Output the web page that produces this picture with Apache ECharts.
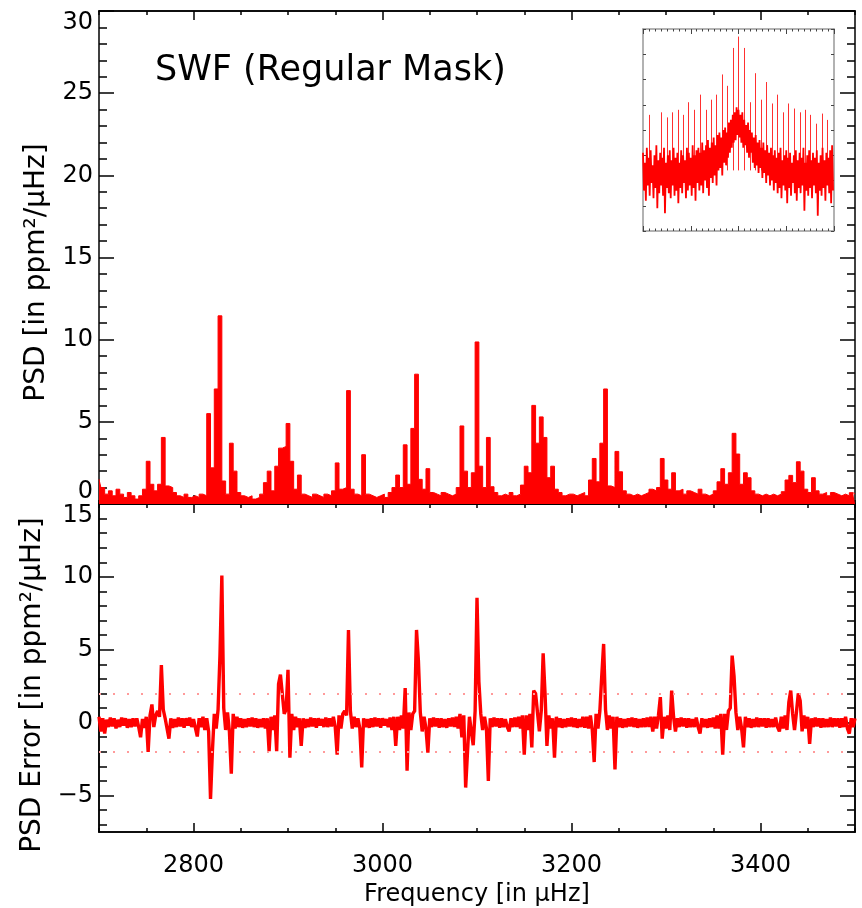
<!DOCTYPE html>
<html>
<head>
<meta charset="utf-8">
<script src="https://cdn.jsdelivr.net/npm/echarts@6/dist/echarts.min.js"></script>
<style>
  html, body { margin: 0; padding: 0; background: #fff; }
  #chart { width: 862px; height: 908px; }
</style>
</head>
<body>
<div id="chart"></div>
<script>
// Spectrum sampling: first bin frequency (µHz) and bin widths of the two panels
const freqStart = 2700;
const psdBinWidth = 4;
const errBinWidth = 2;

// Power spectral density, ppm^2/µHz, one value per 4 µHz bin
const psd = [
  1.5, 1.0, 0.6, 0.8, 0.5, 0.9, 0.6, 0.4, 0.7, 0.5,
  0.3, 0.5, 0.9, 2.6, 1.2, 0.8, 1.2, 4.05, 1.1, 1.0,
  0.7, 0.5, 0.4, 0.6, 0.4, 0.5, 0.4, 0.6, 0.5, 5.5,
  2.2, 7.0, 11.45, 1.4, 0.6, 3.7, 2.0, 0.7, 0.5, 0.4,
  0.5, 0.3, 0.4, 0.6, 1.3, 2.0, 0.8, 2.3, 3.4, 3.5,
  4.9, 2.6, 0.9, 1.76, 0.6, 0.5, 0.4, 0.6, 0.5, 0.4,
  0.6, 0.5, 0.8, 2.5, 0.9, 1.0, 6.9, 0.9, 0.6, 0.5,
  3.0, 0.6, 0.5, 0.4, 0.5, 0.6, 0.4, 0.7, 1.0, 1.76,
  1.0, 3.6, 1.2, 4.6, 7.9, 1.5, 0.9, 2.15, 0.7, 0.6,
  0.5, 0.7, 0.6, 0.5, 0.6, 1.0, 4.75, 2.0, 1.0, 1.9,
  9.86, 2.3, 1.0, 4.05, 1.05, 0.7, 0.5, 0.6, 0.5, 0.7,
  0.5, 0.6, 1.15, 2.3, 1.9, 6.0, 3.7, 5.3, 4.05, 1.6,
  2.3, 0.9, 0.7, 0.5, 0.6, 0.6, 0.5, 0.6, 0.7, 0.5,
  1.46, 2.77, 1.35, 3.7, 7.0, 1.1, 1.0, 3.2, 1.96, 0.8,
  0.6, 0.5, 0.6, 0.5, 0.6, 0.7, 0.9, 0.8, 1.0, 2.77,
  1.46, 0.9, 1.9, 0.8, 0.9, 0.6, 0.8, 0.7, 0.6, 0.9,
  0.6, 0.5, 0.6, 0.8, 1.35, 2.15, 1.2, 1.9, 4.3, 3.04,
  1.2, 1.9, 1.6, 0.8, 0.6, 0.5, 0.6, 0.5, 0.6, 0.5,
  0.6, 0.75, 1.46, 1.74, 1.3, 2.57, 2.0, 0.9, 0.7, 1.6,
  0.8, 0.6, 0.7, 0.5, 0.7, 0.6, 0.5, 0.6, 0.5, 0.69,
  0.6
];

// PSD error, ppm^2/µHz, one value per 2 µHz bin (20 bins = 40 µHz per row)
const psdError = [
  0.4, -0.6, 0.3, -0.75, 0.2, -0.3, 0.35, -0.25, 0.3, -0.4, 0.2, -0.3, 0.35, -0.2, 0.3, -0.35, 0.25, -0.3, 0.3, -0.25,
  0.3, -0.3, -1.0, 0.25, -0.35, 0.4, -2.0, 0.5, 1.25, -0.3, 0.5, 0.8, 0.4, 3.95, 0.9, 0.3, -0.4, -1.1, 0.3, -0.35,
  0.25, -0.3, 0.35, -0.25, 0.3, -0.35, 0.3, -0.2, 0.35, -0.3, 0.25, -0.35, -0.95, 0.3, -0.3, 0.4, -0.5, 0.3, -0.6, -5.23,
  -1.95, 0.6, -0.4, 0.9, 4.6, 10.1, 1.0, -0.5, 0.7, -0.6, -3.5, 0.6, -0.4, 0.4, -0.3, 0.3, -0.35, 0.25, -0.3, 0.3,
  -0.25, 0.35, -0.3, 0.3, -0.35, 0.25, -0.3, 0.3, -0.4, 0.3, -1.95, 0.4, -0.5, 0.5, -1.95, 2.66, 3.3, 3.3, 0.6, 0.9,
  3.63, -2.4, 0.6, -0.5, 0.4, -0.3, 0.3, -1.6, 0.3, -0.35, 0.25, -0.3, 0.35, -0.25, 0.3, -0.35, 0.3, -0.2, 0.25, -0.3,
  0.35, -0.3, 0.3, -0.25, 0.4, -0.3, -2.2, 0.5, -0.4, 0.6, 0.8, 0.5, 6.36, 0.8, -0.4, 0.4, -0.3, 0.3, -0.4, -3.07,
  0.3, -0.3, 0.25, -0.35, 0.3, -0.3, 0.35, -0.25, 0.3, -0.35, 0.3, -0.2, 0.25, -0.3, 0.35, -0.5, 0.4, -1.6, 0.4, -0.5,
  0.5, -0.4, 2.37, -3.3, 0.7, -0.5, 0.6, 0.8, 6.36, 4.25, 0.7, -0.6, 0.4, -0.4, -2.05, 0.3, -0.3, 0.35, -0.25, 0.3,
  -0.35, 0.3, -0.3, 0.25, -0.35, 0.3, -0.25, 0.35, -0.3, 0.4, -0.4, 0.6, -1.0, 0.5, -4.45, -1.95, 0.4, -0.6, -1.55, 0.8,
  8.57, 2.8, 0.6, -0.5, 0.4, -0.4, -4.0, 0.3, -0.3, 0.35, -0.25, 0.3, -0.35, 0.3, -0.3, 0.25, -0.3, -0.6, 0.3, -0.3,
  0.35, -0.3, 0.4, -0.4, 0.5, -2.2, 0.5, -0.5, 0.6, -1.7, 2.2, 2.0, 0.7, -0.6, 0.8, 4.75, 2.0, -1.6, 0.5, -0.4,
  0.3, -2.4, 0.4, -0.3, 0.3, -0.35, 0.25, -0.3, 0.3, -0.25, 0.35, -0.3, 0.3, -0.35, 0.25, -0.3, 0.4, -0.35, 0.4, -0.4,
  0.5, -0.5, -2.7, 0.6, -0.4, 0.8, 3.2, 5.4, 0.9, -0.5, 0.5, -0.4, 0.4, -3.2, 0.4, -0.3, 0.3, -0.35, 0.25, -0.3,
  0.3, -0.25, 0.35, -0.3, 0.3, -0.35, 0.25, -0.3, 0.3, -0.3, 0.35, -0.3, 0.4, -0.6, 0.4, -0.4, 0.5, 1.75, -1.1, 0.4,
  -0.4, 0.5, -0.5, 2.2, 0.4, -0.6, 0.3, -0.3, 0.35, -0.25, 0.3, -0.35, 0.3, -0.3, 0.25, -0.3, 0.35, -0.3, -0.75, 0.3,
  -0.3, 0.25, -0.35, 0.3, -0.3, 0.35, -0.4, 0.5, -0.4, 0.6, -2.2, 0.6, -0.5, 0.8, 1.0, 4.6, 3.2, 0.7, -0.5, 0.4,
  -0.4, -1.7, 0.4, -0.3, 0.3, -0.35, 0.25, -0.3, 0.35, -0.3, 0.3, -0.25, 0.3, -0.35, 0.3, -0.3, 0.25, -0.3, 0.35, -0.3,
  -0.6, 0.4, -0.4, 0.5, -0.5, 1.4, 2.2, 0.6, -0.5, 0.7, 2.0, 1.5, -0.6, 0.5, -0.4, 0.4, -1.45, 0.3, -0.3, 0.35,
  -0.25, 0.3, -0.35, 0.3, -0.3, 0.25, -0.3, 0.35, -0.3, 0.3, -0.25, 0.3, -0.35, 0.3, -0.3, 0.4, -0.4, -0.75, 0.3, -0.3,
  0.3
];

// Reference level drawn as dotted lines on the error panel
const errLevels = [2, -2];

// Axis tick values
const freqMajorTicks = [2800, 3000, 3200, 3400];
const errMajorTicks = [-5, 0, 5, 10, 15];
const errMinorTicks = [-7, -6, -4, -3, -2, -1, 1, 2, 3, 4, 6, 7, 8, 9, 11, 12, 13, 14];

// Inset: full spectrum envelope (upper / lower values per sample)
const insetHi = [
  3.1, 2.7, 3.3, 2.9, 3.2, 2.6, 3.0, 3.4, 2.8, 3.1,
  2.9, 3.3, 2.7, 3.0, 3.2, 2.8, 3.3, 2.9, 3.1, 2.7,
  3.2, 3.0, 2.8, 3.3, 3.1, 2.9, 3.4, 3.0, 3.2, 3.3,
  3.1, 3.5, 3.2, 3.4, 3.6, 3.3, 3.5, 3.7, 3.4, 3.8,
  3.9, 3.7, 4.0, 4.1, 3.9, 4.3, 4.4, 4.6, 4.7, 4.9,
  4.8, 4.6, 4.7, 4.4, 4.2, 4.3, 4.0, 3.9, 3.7, 3.8,
  3.5, 3.6, 3.3, 3.5, 3.2, 3.4, 3.1, 3.3, 3.0, 3.2,
  2.9, 3.1, 3.3, 2.8, 3.0, 3.2, 2.9, 3.1, 2.7, 3.0,
  3.2, 2.8, 3.1, 2.9, 3.3, 2.7, 3.0, 3.2, 2.8, 3.1,
  2.9, 3.2, 2.7, 3.0, 3.3, 2.8, 3.1, 2.9, 3.2, 3.4
];
const insetLo = [
  1.6, 1.2, 1.8, 1.4, 1.9, 1.3, 1.7, 0.9, 1.5, 1.8,
  1.4, 0.7, 1.7, 1.5, 1.3, 1.8, 1.4, 1.6, 1.1, 1.7,
  1.5, 1.9, 1.3, 1.6, 1.8, 1.4, 1.7, 1.2, 1.9, 1.6,
  1.8, 1.5, 2.0, 1.7, 1.4, 2.1, 1.9, 2.2, 1.8, 2.4,
  2.5, 2.2, 2.7, 2.6, 2.9, 3.1, 3.3, 3.5, 3.6, 3.8,
  3.7, 3.5, 3.3, 3.4, 3.1, 2.9, 3.1, 2.7, 2.5, 2.6,
  2.3, 2.5, 2.1, 2.3, 1.9, 2.2, 1.8, 2.0, 1.6, 1.9,
  1.5, 1.7, 1.3, 1.8, 1.6, 1.1, 1.7, 1.4, 1.9, 1.5,
  1.2, 1.7, 1.5, 1.8, 0.8, 1.6, 1.4, 1.7, 1.3, 1.8,
  1.5, 0.6, 1.6, 1.4, 1.7, 1.2, 1.8, 1.5, 1.1, 1.6
];
// Inset: mode comb (position on the inset axis, peak height)
const insetSpikeX = [3.5, 9.6, 12.5, 15.5, 18.3, 21.2, 23.8, 27.0, 29.9, 33.0, 35.7, 38.6, 41.6, 44.3, 47.3, 50.1,
  52.9, 56.0, 59.0, 61.7, 64.7, 67.7, 70.4, 73.4, 76.3, 79.1, 82.1, 85.0, 87.8, 90.8, 93.7, 96.5];
const insetSpikeTop = [4.6, 4.7, 4.5, 4.7, 4.8, 4.6, 5.1, 4.8, 5.4, 4.8, 5.2, 5.4, 6.2, 5.75, 7.25, 7.7,
  7.25, 5.1, 6.25, 5.2, 5.9, 5.05, 5.4, 4.7, 5.05, 4.85, 4.7, 4.8, 4.6, 4.25, 4.65, 4.4];
const insetSpikeBase = 2.4;

const FONT = 'DejaVu Sans';
const RED = '#ff0000';
const AXIS = { color: '#000', width: 1.5 };

const psdData = psd.map((v, i) => [freqStart + i * psdBinWidth, v]);
const errData = psdError.map((v, i) => [freqStart + i * errBinWidth, v]);
const insetBand = [];
insetHi.forEach((h, i) => { insetBand.push([i, h]); insetBand.push([i + 0.5, insetLo[i]]); });
const spikeLines = insetSpikeX.map((x, i) => ({ coords: [[x, insetSpikeBase], [x, insetSpikeTop[i]]] }));

function freqAxis(gridIndex, position, major, withLabels) {
  const ax = {
    type: 'value', gridIndex, position, min: 2700, max: 3500,
    axisLine: { show: true, onZero: false, lineStyle: AXIS },
    splitLine: { show: false },
    axisTick: { show: true, inside: true, length: major ? 9 : 4, lineStyle: AXIS },
    axisLabel: { show: false }
  };
  if (major) {
    ax.axisTick.customValues = freqMajorTicks;
    ax.axisLabel = {
      show: !!withLabels, customValues: freqMajorTicks, margin: 22,
      fontFamily: FONT, fontSize: 24, color: '#000',
      formatter: v => String(v)
    };
  } else {
    ax.interval = 50;
  }
  if (withLabels) {
    ax.name = 'Frequency [in μHz]';
    ax.nameLocation = 'middle';
    ax.nameGap = 51;
    ax.nameTextStyle = { fontFamily: FONT, fontSize: 24, color: '#000' };
  }
  return ax;
}

function errAxis(position, major, withLabels) {
  const vals = major ? errMajorTicks : errMinorTicks;
  const ax = {
    type: 'value', gridIndex: 1, position, min: -7.5, max: 15,
    axisLine: { show: true, onZero: false, lineStyle: AXIS },
    splitLine: { show: false },
    axisTick: { show: true, inside: true, length: major ? 15 : 8, customValues: vals, lineStyle: AXIS },
    axisLabel: { show: false }
  };
  if (withLabels) {
    ax.axisLabel = {
      show: true, customValues: errMajorTicks, margin: 6,
      fontFamily: FONT, fontSize: 24, color: '#000',
      verticalAlignMaxLabel: 'top',
      formatter: v => (v < 0 ? '\u2212' + Math.abs(v) : String(v))
    };
    ax.name = 'PSD Error [in ppm²/μHz]';
    ax.nameLocation = 'middle';
    ax.nameGap = 48;
    ax.nameTextStyle = { fontFamily: FONT, fontSize: 28, color: '#000', padding: [0, 34, 0, 0] };
  }
  return ax;
}

function psdAxis(position, withLabels) {
  const ax = {
    type: 'value', gridIndex: 0, position, min: 0, max: 30, interval: 5,
    axisLine: { show: true, onZero: false, lineStyle: AXIS },
    splitLine: { show: false },
    axisTick: { show: true, inside: true, length: 15, lineStyle: AXIS },
    minorTick: { show: true, splitNumber: 5, length: 8, lineStyle: AXIS },
    axisLabel: { show: false }
  };
  if (withLabels) {
    ax.axisLabel = {
      show: true, margin: 6, fontFamily: FONT, fontSize: 24, color: '#000',
      verticalAlignMinLabel: 'bottom', verticalAlignMaxLabel: 'top'
    };
    ax.name = 'PSD [in ppm²/μHz]';
    ax.nameLocation = 'middle';
    ax.nameGap = 48;
    ax.nameTextStyle = { fontFamily: FONT, fontSize: 28, color: '#000', padding: [0, 30, 0, 0] };
  }
  return ax;
}

function insetXAxis(position) {
  return {
    type: 'value', gridIndex: 2, position, min: 0, max: 100, interval: 25,
    axisLine: { show: true, onZero: false, lineStyle: { color: '#999', width: 1.5 } },
    splitLine: { show: false },
    axisTick: { show: true, inside: true, length: 5, lineStyle: { color: '#444', width: 1 } },
    minorTick: { show: true, splitNumber: 8, length: 2.5, lineStyle: { color: '#444', width: 1 } },
    axisLabel: { show: false }
  };
}
function insetYAxis(position) {
  return {
    type: 'value', gridIndex: 2, position, min: 0, max: 8, interval: 1,
    axisLine: { show: true, onZero: false, lineStyle: { color: '#999', width: 1.5 } },
    splitLine: { show: false },
    axisTick: { show: true, inside: true, length: 3, lineStyle: { color: '#444', width: 1 } },
    axisLabel: { show: false }
  };
}

const chart = echarts.init(document.getElementById('chart'), null, { renderer: 'canvas' });
chart.setOption({
  animation: false,
  backgroundColor: '#fff',
  title: {
    text: 'SWF (Regular Mask)', left: 150, top: 48,
    textStyle: { fontFamily: FONT, fontSize: 35, fontWeight: 'normal', color: '#000' }
  },
  grid: [
    { left: 99, top: 11, width: 756, height: 493 },
    { left: 99, top: 504, width: 756, height: 330 },
    { left: 643, top: 29, width: 191, height: 202 }
  ],
  xAxis: [
    freqAxis(0, 'bottom', true, false),
    freqAxis(0, 'bottom', false, false),
    freqAxis(0, 'top', true, false),
    freqAxis(0, 'top', false, false),
    freqAxis(1, 'bottom', true, true),
    freqAxis(1, 'bottom', false, false),
    freqAxis(1, 'top', true, false),
    freqAxis(1, 'top', false, false),
    insetXAxis('bottom'),
    insetXAxis('top')
  ],
  yAxis: [
    psdAxis('left', true),
    psdAxis('right', false),
    errAxis('left', true, true),
    errAxis('left', false, false),
    errAxis('right', true, false),
    errAxis('right', false, false),
    insetYAxis('left'),
    insetYAxis('right')
  ],
  series: [
    {
      name: 'PSD', type: 'line', xAxisIndex: 0, yAxisIndex: 0,
      data: psdData, step: 'middle', symbol: 'none', clip: true,
      lineStyle: { color: RED, width: 1 },
      areaStyle: { color: RED, opacity: 1 }
    },
    {
      name: 'PSD Error', type: 'line', xAxisIndex: 4, yAxisIndex: 2,
      data: errData, symbol: 'none', clip: true,
      lineStyle: { color: RED, width: 3.4, join: 'miter', miterLimit: 2 },
      markLine: {
        silent: true, symbol: 'none', label: { show: false },
        lineStyle: { color: '#ff9a9a', type: [2, 12], width: 2 },
        data: errLevels.map(v => ({ yAxis: v }))
      }
    },
    {
      name: 'Comb', type: 'lines', coordinateSystem: 'cartesian2d',
      xAxisIndex: 8, yAxisIndex: 6, polyline: false, silent: true,
      lineStyle: { color: '#ff3030', width: 1, opacity: 1 },
      data: spikeLines
    },
    {
      name: 'Spectrum', type: 'line', xAxisIndex: 8, yAxisIndex: 6,
      data: insetBand, symbol: 'none', clip: true,
      lineStyle: { color: RED, width: 1.8 }
    }
  ]
});
</script>
</body>
</html>
